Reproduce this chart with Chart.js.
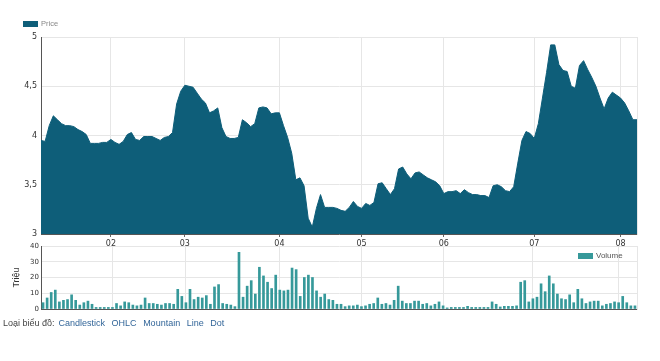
<!DOCTYPE html>
<html>
<head>
<meta charset="utf-8">
<script src="https://cdn.jsdelivr.net/npm/chart.js@4.4.1/dist/chart.umd.min.js"></script>
<style>
  body { margin: 0; background: #fff; font-family: "Liberation Sans", Arial, sans-serif; }
  #wrap { position: relative; width: 660px; height: 361px; overflow: hidden; }
  canvas { position: absolute; left: 0; }
  #price { top: 0; }
  #volume { top: 236px; }
  .lg { position: absolute; display: flex; align-items: center; white-space: nowrap; }
  .lg i { display: inline-block; width: 15px; height: 6px; margin-right: 3px; }
  #lgPrice { left: 23px; top: 19px; font-size: 7.5px; color: #888; }
  #lgPrice i { background: #0e5e79; }
  #lgVol { left: 578px; top: 251px; font-size: 8px; color: #555; }
  #lgVol i { background: #36999a; }
  #types { position: absolute; left: 3px; top: 318px; font-size: 9px; color: #444; }
  #types span { color: #336699; margin-left: 4px; }
</style>
</head>
<body>
<div id="wrap">
  <canvas id="price" width="660" height="250"></canvas>
  <canvas id="volume" width="660" height="84"></canvas>
  <div class="lg" id="lgPrice"><i></i>Price</div>
  <div class="lg" id="lgVol"><i></i>Volume</div>
  <div id="types">Loại biểu đồ:<span>Candlestick</span> <span>OHLC</span> <span>Mountain</span> <span>Line</span> <span>Dot</span></div>
</div>
<script>
// daily close (nghìn đồng), mid-Jan to early Aug
const prices = [
  3.95, 3.94, 4.10, 4.20, 4.16, 4.12, 4.10, 4.10, 4.09, 4.06,
  4.04, 4.01, 3.92, 3.92, 3.92, 3.93, 3.93, 3.96, 3.93, 3.91,
  3.94, 4.01, 4.03, 3.96, 3.95, 3.99, 3.99, 3.99, 3.97, 3.95,
  3.98, 3.99, 4.03, 4.32, 4.45, 4.51, 4.50, 4.49, 4.43, 4.37,
  4.33, 4.23, 4.25, 4.28, 4.08, 3.99, 3.97, 3.97, 3.98, 4.16,
  4.13, 4.09, 4.12, 4.28, 4.29, 4.28, 4.22, 4.23, 4.23, 4.10,
  3.98, 3.82, 3.55, 3.57, 3.49, 3.16, 3.07, 3.26, 3.40, 3.27,
  3.27, 3.27, 3.26, 3.24, 3.23, 3.27, 3.33, 3.28, 3.26, 3.31,
  3.29, 3.32, 3.51, 3.52, 3.46, 3.40, 3.46, 3.66, 3.68, 3.61,
  3.56, 3.62, 3.63, 3.60, 3.57, 3.55, 3.53, 3.49, 3.41, 3.43,
  3.43, 3.44, 3.41, 3.45, 3.42, 3.40, 3.40, 3.39, 3.39, 3.37,
  3.49, 3.50, 3.48, 3.44, 3.43, 3.48, 3.72, 3.95, 4.04, 4.02,
  3.97, 4.12, 4.38, 4.64, 4.92, 4.92, 4.72, 4.66, 4.65, 4.50,
  4.48, 4.71, 4.76, 4.67, 4.59, 4.50, 4.38, 4.27, 4.38, 4.44,
  4.41, 4.38, 4.33, 4.25, 4.16, 4.16
];

// volume, millions of shares
const volumes = [
  4, 7, 10.5, 12, 4.5, 5.5, 6, 9, 5.5, 2.5,
  4, 5, 3, 1, 1, 1, 1, 1, 3.5, 2,
  4.5, 4, 2.5, 2, 2.5, 7, 3.5, 3.5, 3, 2.5,
  3.5, 3.5, 3, 12.5, 8, 4, 12.5, 6, 7.5, 7,
  8.5, 3, 14, 15.5, 3.5, 3, 2.5, 1.5, 36, 7.5,
  14.5, 18, 9.5, 26.5, 21, 17, 13, 21.5, 12, 11.5,
  12, 26, 25, 8, 20, 21.5, 20, 11.5, 7.5, 9.5,
  6, 5.5, 3, 3, 1.5, 2, 2, 2.5, 1.5, 2,
  3, 3.5, 7, 3, 3.5, 2.5, 5.5, 14.5, 5, 3.5,
  3.5, 5, 5, 3, 3.5, 2, 3, 4.5, 2, 0.7,
  1, 1, 1, 1, 1.7, 1, 1, 1, 1, 1,
  4.5, 3, 1.3, 1.7, 1.7, 1.7, 2, 17, 18, 4.5,
  6.5, 7.5, 16, 11, 21, 16, 9.5, 6.5, 6, 9,
  4, 12.5, 6.5, 3.5, 4.5, 5, 5, 2, 3, 3.5,
  4.5, 4, 8, 4, 2, 2
];

// first trading day of each month (index into the series) and its label
const monthStarts = [17, 35, 58, 78, 98, 120, 141];
const monthNames = ["02", "03", "04", "05", "06", "07", "08"];

const labels = prices.map((p, i) => i);
const gridColor = "#e6e6e6";
const axisColor = "#555";
const monthOf = (i) => monthStarts.indexOf(i);

const rightBorder = {
  position: "right", min: 0, max: 1,
  ticks: { display: false },
  grid: { display: false },
  border: { color: gridColor },
  afterFit: (s) => { s.width = 0; }
};

new Chart(document.getElementById("price"), {
  type: "line",
  data: {
    labels: labels,
    datasets: [{
      label: "Price",
      data: prices,
      fill: "start",
      backgroundColor: "#0e5e79",
      borderColor: "#0e5e79",
      borderWidth: 1,
      pointRadius: 0,
      tension: 0
    }]
  },
  options: {
    responsive: false,
    animation: false,
    layout: { padding: { left: 0, right: 23, top: 37, bottom: 0 } },
    plugins: { legend: { display: false }, tooltip: { enabled: false } },
    scales: {
      x: {
        grid: {
          color: (c) => (monthOf(c.index) >= 0 ? gridColor : "transparent"),
          tickColor: (c) => (monthOf(c.index) >= 0 ? "#666" : "transparent"),
          tickLength: 3
        },
        border: { color: axisColor },
        ticks: {
          autoSkip: false, maxRotation: 0, padding: 2, color: "#333",
          font: { family: "DejaVu Sans", size: 8 },
          callback: (v, i) => (monthOf(i) >= 0 ? monthNames[monthOf(i)] : "")
        },
        afterFit: (s) => { s.height = 16; }
      },
      y: {
        min: 3, max: 5,
        ticks: {
          stepSize: 0.5, padding: 4, color: "#333",
          font: { family: "DejaVu Sans", size: 8 },
          callback: (v) => String(v).replace(".", ",")
        },
        grid: { color: gridColor, drawTicks: false },
        border: { color: axisColor },
        afterFit: (s) => { s.width = 41; }
      },
      yr: rightBorder
    }
  }
});

new Chart(document.getElementById("volume"), {
  type: "bar",
  data: {
    labels: labels,
    datasets: [{
      label: "Volume",
      data: volumes,
      backgroundColor: "#36999a",
      barThickness: 2
    }]
  },
  options: {
    responsive: false,
    animation: false,
    layout: { padding: { left: 0, right: 23, top: 10, bottom: 11 } },
    plugins: { legend: { display: false }, tooltip: { enabled: false } },
    scales: {
      x: {
        grid: {
          offset: false, drawTicks: false,
          color: (c) => (monthOf(c.index) >= 0 ? gridColor : "transparent")
        },
        ticks: { display: false },
        border: { color: axisColor },
        afterFit: (s) => { s.height = 0; }
      },
      y: {
        min: 0, max: 40,
        ticks: {
          stepSize: 10, padding: 2, color: "#333",
          font: { family: "DejaVu Sans", size: 7 }
        },
        title: {
          display: true, text: "Triệu", color: "#333",
          font: { family: "Liberation Sans", size: 9 },
          padding: { top: 11, bottom: 0 }
        },
        grid: { color: gridColor, drawTicks: false },
        border: { color: axisColor },
        afterFit: (s) => { s.width = 41; }
      },
      yr: rightBorder
    }
  }
});
</script>
</body>
</html>
